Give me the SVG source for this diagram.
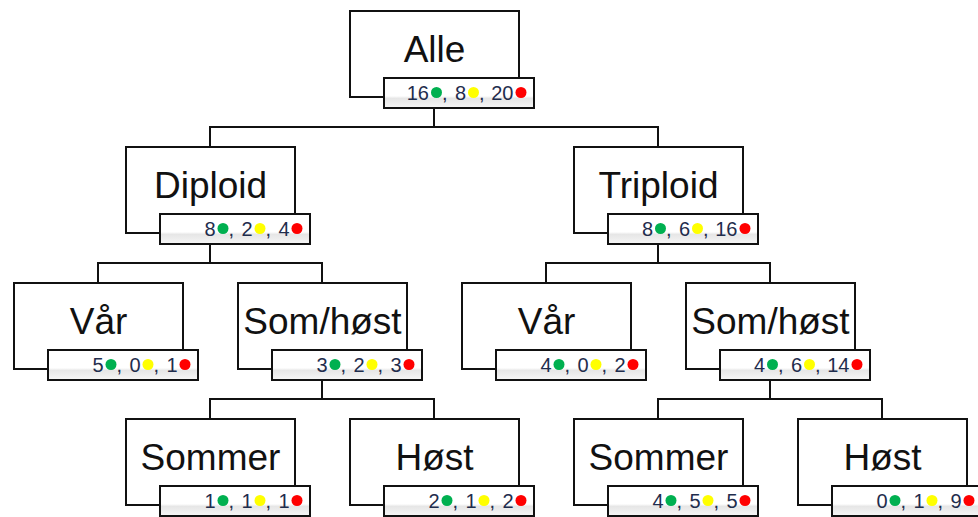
<svg xmlns="http://www.w3.org/2000/svg" width="978" height="517" viewBox="0 0 978 517">
<defs>
<linearGradient id="sg" x1="0" y1="0" x2="0" y2="1">
<stop offset="0" stop-color="#ffffff"/>
<stop offset="0.6" stop-color="#ffffff"/>
<stop offset="0.68" stop-color="#e6e6e6"/>
<stop offset="1" stop-color="#f6f6f6"/>
</linearGradient>
</defs>
<style>
.box{fill:#fff;stroke:#111;stroke-width:2}
.stat{fill:url(#sg);stroke:#111;stroke-width:2}
.lbl{font-family:"Liberation Sans",Arial,sans-serif;font-size:37px;fill:#111;text-anchor:middle}
.num{font-family:"Liberation Sans",Arial,sans-serif;font-size:20px;fill:#1f2d4d;text-anchor:end}
.cm{font-family:"Liberation Sans",Arial,sans-serif;font-size:20px;fill:#1f2d4d}
.g{fill:#00b050}.y{fill:#ffff00}.r{fill:#ff0000}
.conn{fill:none;stroke:#111;stroke-width:2}
</style>
<rect width="978" height="517" fill="#fff"/>
<g id="connectors">
<path class="conn" d="M434 108V127M210 127H658M210 126V147M658 126V147"/>
<path class="conn" d="M210 244V263M98 263H322M98 262V283M322 262V283"/>
<path class="conn" d="M658 244V263M546 263H770M546 262V283M770 262V283"/>
<path class="conn" d="M322 380V399M210 399H434M210 398V419M434 398V419"/>
<path class="conn" d="M770 380V399M658 399H882M658 398V419M882 398V419"/>
</g>
<g id="alle" transform="translate(350,11)">
<rect class="box" x="0" y="0" width="169" height="86"/>
<text class="lbl" x="84.5" y="51">Alle</text>
<rect class="stat" x="34" y="67" width="150" height="30"/>
<text class="num" x="79" y="88.5">16</text><circle class="g" cx="86.5" cy="81.5" r="5.5"/>
<text class="cm" x="92" y="88.5">,</text><text class="num" x="116" y="88.5">8</text><circle class="y" cx="123.5" cy="81.5" r="5.5"/>
<text class="cm" x="129" y="88.5">,</text><text class="num" x="163.5" y="88.5">20</text><circle class="r" cx="171" cy="81.5" r="5.5"/>
</g>
<g id="diploid" transform="translate(126,147)">
<rect class="box" x="0" y="0" width="169" height="86"/>
<text class="lbl" x="84.5" y="51">Diploid</text>
<rect class="stat" x="34" y="67" width="150" height="30"/>
<text class="num" x="89.5" y="88.5">8</text><circle class="g" cx="97" cy="81.5" r="5.5"/>
<text class="cm" x="102.5" y="88.5">,</text><text class="num" x="126.5" y="88.5">2</text><circle class="y" cx="134" cy="81.5" r="5.5"/>
<text class="cm" x="139.5" y="88.5">,</text><text class="num" x="163.5" y="88.5">4</text><circle class="r" cx="171" cy="81.5" r="5.5"/>
</g>
<g id="triploid" transform="translate(574,147)">
<rect class="box" x="0" y="0" width="169" height="86"/>
<text class="lbl" x="84.5" y="51">Triploid</text>
<rect class="stat" x="34" y="67" width="150" height="30"/>
<text class="num" x="79" y="88.5">8</text><circle class="g" cx="86.5" cy="81.5" r="5.5"/>
<text class="cm" x="92" y="88.5">,</text><text class="num" x="116" y="88.5">6</text><circle class="y" cx="123.5" cy="81.5" r="5.5"/>
<text class="cm" x="129" y="88.5">,</text><text class="num" x="163.5" y="88.5">16</text><circle class="r" cx="171" cy="81.5" r="5.5"/>
</g>
<g id="var-diploid" transform="translate(14,283)">
<rect class="box" x="0" y="0" width="169" height="86"/>
<text class="lbl" x="84.5" y="51">Vår</text>
<rect class="stat" x="34" y="67" width="150" height="30"/>
<text class="num" x="89.5" y="88.5">5</text><circle class="g" cx="97" cy="81.5" r="5.5"/>
<text class="cm" x="102.5" y="88.5">,</text><text class="num" x="126.5" y="88.5">0</text><circle class="y" cx="134" cy="81.5" r="5.5"/>
<text class="cm" x="139.5" y="88.5">,</text><text class="num" x="163.5" y="88.5">1</text><circle class="r" cx="171" cy="81.5" r="5.5"/>
</g>
<g id="somhost-diploid" transform="translate(238,283)">
<rect class="box" x="0" y="0" width="169" height="86"/>
<text class="lbl" x="84.5" y="51">Som/høst</text>
<rect class="stat" x="34" y="67" width="150" height="30"/>
<text class="num" x="89.5" y="88.5">3</text><circle class="g" cx="97" cy="81.5" r="5.5"/>
<text class="cm" x="102.5" y="88.5">,</text><text class="num" x="126.5" y="88.5">2</text><circle class="y" cx="134" cy="81.5" r="5.5"/>
<text class="cm" x="139.5" y="88.5">,</text><text class="num" x="163.5" y="88.5">3</text><circle class="r" cx="171" cy="81.5" r="5.5"/>
</g>
<g id="var-triploid" transform="translate(462,283)">
<rect class="box" x="0" y="0" width="169" height="86"/>
<text class="lbl" x="84.5" y="51">Vår</text>
<rect class="stat" x="34" y="67" width="150" height="30"/>
<text class="num" x="89.5" y="88.5">4</text><circle class="g" cx="97" cy="81.5" r="5.5"/>
<text class="cm" x="102.5" y="88.5">,</text><text class="num" x="126.5" y="88.5">0</text><circle class="y" cx="134" cy="81.5" r="5.5"/>
<text class="cm" x="139.5" y="88.5">,</text><text class="num" x="163.5" y="88.5">2</text><circle class="r" cx="171" cy="81.5" r="5.5"/>
</g>
<g id="somhost-triploid" transform="translate(686,283)">
<rect class="box" x="0" y="0" width="169" height="86"/>
<text class="lbl" x="84.5" y="51">Som/høst</text>
<rect class="stat" x="34" y="67" width="150" height="30"/>
<text class="num" x="79" y="88.5">4</text><circle class="g" cx="86.5" cy="81.5" r="5.5"/>
<text class="cm" x="92" y="88.5">,</text><text class="num" x="116" y="88.5">6</text><circle class="y" cx="123.5" cy="81.5" r="5.5"/>
<text class="cm" x="129" y="88.5">,</text><text class="num" x="163.5" y="88.5">14</text><circle class="r" cx="171" cy="81.5" r="5.5"/>
</g>
<g id="sommer-diploid" transform="translate(126,419)">
<rect class="box" x="0" y="0" width="169" height="86"/>
<text class="lbl" x="84.5" y="51">Sommer</text>
<rect class="stat" x="34" y="67" width="150" height="30"/>
<text class="num" x="89.5" y="88.5">1</text><circle class="g" cx="97" cy="81.5" r="5.5"/>
<text class="cm" x="102.5" y="88.5">,</text><text class="num" x="126.5" y="88.5">1</text><circle class="y" cx="134" cy="81.5" r="5.5"/>
<text class="cm" x="139.5" y="88.5">,</text><text class="num" x="163.5" y="88.5">1</text><circle class="r" cx="171" cy="81.5" r="5.5"/>
</g>
<g id="host-diploid" transform="translate(350,419)">
<rect class="box" x="0" y="0" width="169" height="86"/>
<text class="lbl" x="84.5" y="51">Høst</text>
<rect class="stat" x="34" y="67" width="150" height="30"/>
<text class="num" x="89.5" y="88.5">2</text><circle class="g" cx="97" cy="81.5" r="5.5"/>
<text class="cm" x="102.5" y="88.5">,</text><text class="num" x="126.5" y="88.5">1</text><circle class="y" cx="134" cy="81.5" r="5.5"/>
<text class="cm" x="139.5" y="88.5">,</text><text class="num" x="163.5" y="88.5">2</text><circle class="r" cx="171" cy="81.5" r="5.5"/>
</g>
<g id="sommer-triploid" transform="translate(574,419)">
<rect class="box" x="0" y="0" width="169" height="86"/>
<text class="lbl" x="84.5" y="51">Sommer</text>
<rect class="stat" x="34" y="67" width="150" height="30"/>
<text class="num" x="89.5" y="88.5">4</text><circle class="g" cx="97" cy="81.5" r="5.5"/>
<text class="cm" x="102.5" y="88.5">,</text><text class="num" x="126.5" y="88.5">5</text><circle class="y" cx="134" cy="81.5" r="5.5"/>
<text class="cm" x="139.5" y="88.5">,</text><text class="num" x="163.5" y="88.5">5</text><circle class="r" cx="171" cy="81.5" r="5.5"/>
</g>
<g id="host-triploid" transform="translate(798,419)">
<rect class="box" x="0" y="0" width="169" height="86"/>
<text class="lbl" x="84.5" y="51">Høst</text>
<rect class="stat" x="34" y="67" width="150" height="30"/>
<text class="num" x="89.5" y="88.5">0</text><circle class="g" cx="97" cy="81.5" r="5.5"/>
<text class="cm" x="102.5" y="88.5">,</text><text class="num" x="126.5" y="88.5">1</text><circle class="y" cx="134" cy="81.5" r="5.5"/>
<text class="cm" x="139.5" y="88.5">,</text><text class="num" x="163.5" y="88.5">9</text><circle class="r" cx="171" cy="81.5" r="5.5"/>
</g>
</svg>
